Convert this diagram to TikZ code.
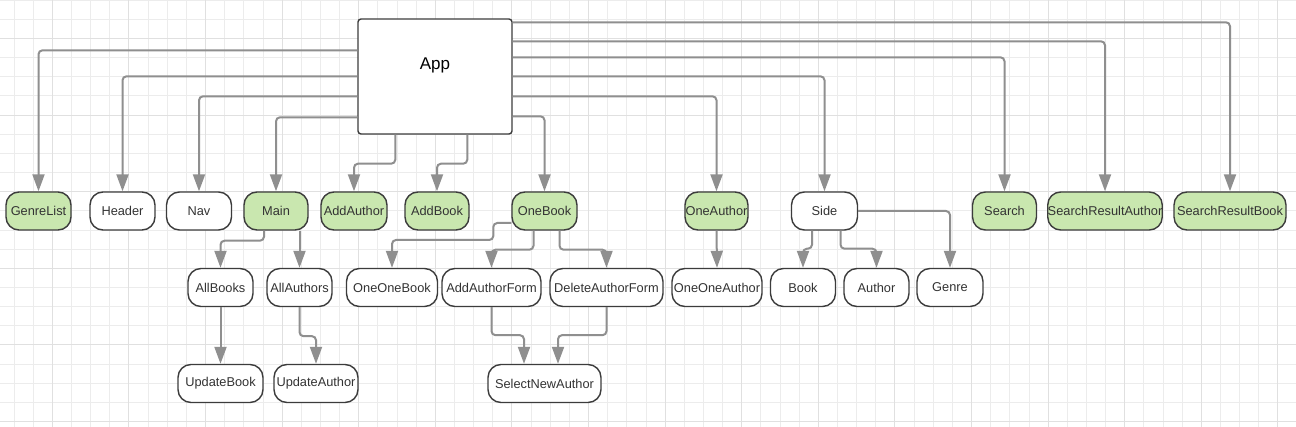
\documentclass[tikz,border=0pt]{standalone}
\usepackage{fontspec}
\setmainfont{Liberation Sans}
\usetikzlibrary{arrows.meta}
\definecolor{gfill}{RGB}{201,231,175}
\definecolor{bord}{RGB}{60,60,60}
\definecolor{txt}{RGB}{51,51,51}
\definecolor{conncol}{RGB}{143,143,143}
\definecolor{gridmin}{RGB}{236,236,236}
\definecolor{gridmaj}{RGB}{224,224,224}
\tikzset{
  nbox/.style={draw=bord, line width=1.4pt, rounded corners=13pt, minimum height=38pt,
    inner sep=0pt, text=txt, font=\fontsize{12.8}{14}\selectfont, fill=white},
  gbox/.style={nbox, fill=gfill},
  appbox/.style={draw=bord, line width=1.4pt, rounded corners=3pt, fill=white,
    minimum width=154pt, minimum height=115pt, inner sep=0pt},
  conn/.style={draw=conncol, line width=2pt, rounded corners=4pt,
    -{Triangle[length=17pt,width=12pt]}},
  gminor/.style={draw=gridmin, line width=0.9pt},
  gmajor/.style={draw=gridmaj, line width=1.1pt}
}
\begin{document}
\begin{tikzpicture}[x=1pt,y=-1pt]
\useasboundingbox (0,0) rectangle (1296,427);
\fill[white] (0,0) rectangle (1296,427);
% grid
\foreach \i in {0,...,67} {\draw[gminor] ({14+19.15*\i},0) -- ({14+19.15*\i},427);}
\foreach \i in {0,...,22} {\draw[gminor] (0,{0.2+19.15*\i}) -- (1296,{0.2+19.15*\i});}
\foreach \i in {0,...,16} {\draw[gmajor] ({52.3+76.6*\i},0) -- ({52.3+76.6*\i},427);}
\foreach \i in {0,...,5} {\draw[gmajor] (0,{38.5+76.6*\i}) -- (1296,{38.5+76.6*\i});}

% App
\node[appbox] (app) at (435,76.5) {};
\node[text=black, font=\fontsize{17}{19}\selectfont, inner sep=0pt] (applabel) at (435,65.5) {App};

% row 1
\node[gbox, minimum width=65pt] (genrelist) at (38.5,211) {GenreList};
\node[nbox, minimum width=65pt] (header) at (122.5,211) {Header};
\node[nbox, minimum width=65pt] (nav) at (199,211) {Nav};
\node[gbox, minimum width=64pt] (main) at (276,211) {Main};
\node[gbox, minimum width=66pt] (addauthor) at (354,211) {AddAuthor};
\node[gbox, minimum width=64pt] (addbook) at (437,211) {AddBook};
\node[gbox, minimum width=65pt] (onebook) at (544.5,211) {OneBook};
\node[gbox, minimum width=63pt] (oneauthor) at (716.5,211) {OneAuthor};
\node[nbox, minimum width=66pt] (side) at (824.5,211) {Side};
\node[gbox, minimum width=64pt] (search) at (1004.5,211) {Search};
\node[gbox, minimum width=113pt] (sra) at (1105,211) {SearchResultAuthor};
\node[gbox, minimum width=112pt] (srb) at (1230,211) {SearchResultBook};

% row 2
\node[nbox, minimum width=65pt] (allbooks) at (220.5,287.5) {AllBooks};
\node[nbox, minimum width=65pt] (allauthors) at (299.5,287.5) {AllAuthors};
\node[nbox, minimum width=91pt] (oneonebook) at (392,287.5) {OneOneBook};
\node[nbox, minimum width=99pt] (addauthorform) at (491.5,287.5) {AddAuthorForm};
\node[nbox, minimum width=113pt] (deleteauthorform) at (606.5,287.5) {DeleteAuthorForm};
\node[nbox, minimum width=90pt] (oneoneauthor) at (717,287.5) {OneOneAuthor};
\node[nbox, minimum width=65pt] (book) at (803,287.5) {Book};
\node[nbox, minimum width=65pt] (author) at (876.5,287.5) {Author};
\node[nbox, minimum width=66pt] (genre) at (950,287.5) {Genre};

% row 3
\node[nbox, minimum width=85pt] (updatebook) at (220.5,383.5) {UpdateBook};
\node[nbox, minimum width=84pt] (updateauthor) at (316,383.5) {UpdateAuthor};
\node[nbox, minimum width=113pt] (selectnewauthor) at (544.5,383.5) {SelectNewAuthor};

% connectors from App (left)
\draw[conn] ([yshift=-32pt]app.north west) -| (genrelist.north);
\draw[conn] ([yshift=-58pt]app.north west) -| (header.north);
\draw[conn] ([yshift=-78pt]app.north west) -| (nav.north);
\draw[conn] ([yshift=-99pt]app.north west) -| (main.north);
% bottom
\draw[conn] ([xshift=38pt]app.south west) -- ++(0,29) -| (addauthor.north);
\draw[conn] ([xshift=110pt]app.south west) -- ++(0,29) -| (addbook.north);
% right
\draw[conn] ([yshift=-98pt]app.north east) -| (onebook.north);
\draw[conn] ([yshift=-78pt]app.north east) -| (oneauthor.north);
\draw[conn] ([yshift=-58pt]app.north east) -| (side.north);
\draw[conn] ([yshift=-39pt]app.north east) -| (search.north);
\draw[conn] ([yshift=-23pt]app.north east) -| (sra.north);
\draw[conn] ([yshift=-4pt]app.north east) -| (srb.north);

% row1 -> row2
\draw[conn] ([xshift=-12pt]main.south) -- ++(0,10) -| (allbooks.north);
\draw[conn] (allauthors.north |- main.south) -- (allauthors.north);
\draw[conn] ([yshift=-12pt]onebook.west) -- ++(-18,0) -- ++(0,17) -| (oneonebook.north);
\draw[conn] ([xshift=-11pt]onebook.south) -- ++(0,19) -| (addauthorform.north);
\draw[conn] ([xshift=15pt]onebook.south) -- ++(0,19) -| (deleteauthorform.north);
\draw[conn] (oneauthor.south) -- (oneoneauthor.north);
\draw[conn] ([xshift=-12.5pt]side.south) -- ++(0,18) -| (book.north);
\draw[conn] ([xshift=16pt]side.south) -- ++(0,18) -| (author.north);
\draw[conn] (side.east) -| (genre.north);

% row2 -> row3
\draw[conn] (allbooks.south) -- (updatebook.north);
\draw[conn] (allauthors.south) -- ++(0,29) -| (updateauthor.north);
\draw[conn] (addauthorform.south) -- ++(0,28) -| ([xshift=-20.5pt]selectnewauthor.north);
\draw[conn] (deleteauthorform.south) -- ++(0,28) -| ([xshift=13.5pt]selectnewauthor.north);
\end{tikzpicture}
\end{document}
